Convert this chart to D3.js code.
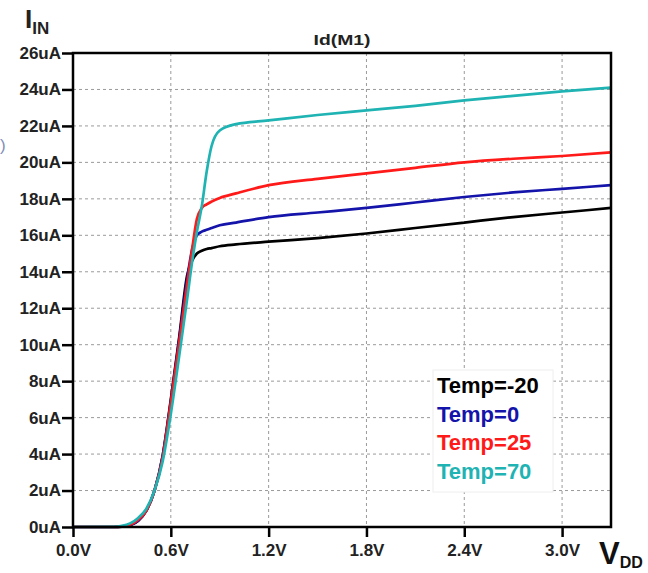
<!DOCTYPE html>
<html>
<head>
<meta charset="utf-8">
<script src="https://cdn.jsdelivr.net/npm/d3@7"></script>
<style>
  body { margin: 0; background: #fff; }
  svg { display: block; font-family: "Liberation Sans", Arial, sans-serif; }
</style>
</head>
<body>
<div id="chart"></div>
<script>
// Data: drain current (uA) vs VDD (V) per temperature
const vdd = [0, 0.25, 0.3, 0.35, 0.4, 0.45, 0.5, 0.55, 0.6, 0.65, 0.7, 0.73, 0.76, 0.79, 0.82, 0.85, 0.9, 1.0, 1.2, 1.5, 1.8, 2.1, 2.4, 2.7, 3.0, 3.3]
const tempM20 = [0, 0, 0.02, 0.1, 0.35, 0.9, 2.0, 3.9, 7.0, 10.3, 13.8, 14.6, 15.0, 15.15, 15.25, 15.3, 15.4, 15.5, 15.65, 15.85, 16.1, 16.4, 16.7, 17.0, 17.25, 17.5]
const temp0 = [0, 0, 0.02, 0.1, 0.35, 0.9, 2.0, 3.9, 6.9, 10.2, 13.6, 15.2, 16.0, 16.2, 16.3, 16.4, 16.55, 16.7, 17.0, 17.25, 17.5, 17.8, 18.1, 18.35, 18.55, 18.75]
const temp25 = [0, 0, 0.03, 0.12, 0.4, 0.9, 2.0, 3.8, 6.8, 10.0, 13.3, 15.2, 16.9, 17.5, 17.7, 17.85, 18.05, 18.3, 18.75, 19.1, 19.4, 19.7, 20.0, 20.2, 20.35, 20.55]
const temp70 = [0, 0.01, 0.06, 0.2, 0.5, 1.0, 2.0, 3.6, 6.2, 9.3, 12.5, 14.5, 16.2, 17.6, 19.5, 20.9, 21.75, 22.1, 22.3, 22.6, 22.85, 23.1, 23.4, 23.65, 23.9, 24.1]

const seriesNames = ["Temp=-20", "Temp=0", "Temp=25", "Temp=70"]
const seriesColors = ["#000000", "#1414aa", "#ff1a1a", "#1fb3b3"]
const seriesValues = [tempM20, temp0, temp25, temp70]

const xTicks = [0, 0.6, 1.2, 1.8, 2.4, 3.0]
const yTicks = d3.range(0, 27, 2)

// Layout
const width = 648, height = 573
const plotLeft = 73, plotRight = 611, plotTop = 53, plotBottom = 527

const svg = d3.select("#chart")
    .append("svg")
    .attr("width", width)
    .attr("height", height)

const x = d3.scaleLinear().domain([0, 3.3]).range([plotLeft, plotRight])
const y = d3.scaleLinear().domain([0, 26]).range([plotBottom, plotTop])

// Grid
let grid = svg.append("g")
    .style("stroke", "#9a9a9a")
    .style("stroke-width", 1)
    .style("stroke-dasharray", "3,3")

grid.selectAll("line.gx")
    .data(xTicks.slice(1))
    .enter()
    .append("line")
    .attr("x1", d => x(d)).attr("x2", d => x(d))
    .attr("y1", plotTop).attr("y2", plotBottom)

grid.selectAll("line.gy")
    .data(yTicks.slice(1, -1))
    .enter()
    .append("line")
    .attr("x1", plotLeft).attr("x2", plotRight)
    .attr("y1", d => y(d)).attr("y2", d => y(d))

// Curves
const line = d3.line()
    .x((d, i) => x(vdd[i]))
    .y(d => y(d))
    .curve(d3.curveMonotoneX)

svg.append("g")
    .style("fill", "none")
    .style("stroke-width", 2.7)
    .style("stroke-linejoin", "round")
    .selectAll("path")
    .data(seriesValues)
    .enter()
    .append("path")
    .attr("d", d => line(d))
    .style("stroke", (d, i) => seriesColors[i])

// Frame
svg.append("rect")
    .attr("x", plotLeft).attr("y", plotTop)
    .attr("width", plotRight - plotLeft).attr("height", plotBottom - plotTop)
    .style("fill", "none")
    .style("stroke", "#000")
    .style("stroke-width", 2.5)

// Axes
const yAxis = svg.append("g")
    .attr("transform", `translate(${plotLeft},0)`)
    .call(d3.axisLeft(y).tickValues(yTicks).tickFormat(d => d + "uA").tickSize(11).tickPadding(1))
const xAxis = svg.append("g")
    .attr("transform", `translate(0,${plotBottom})`)
    .call(d3.axisBottom(x).tickValues(xTicks).tickFormat(d => d.toFixed(1) + "V").tickSize(10).tickPadding(7))

for (const ax of [yAxis, xAxis]) {
    ax.select(".domain").remove()
    ax.selectAll(".tick line").style("stroke", "#000").style("stroke-width", 2.5)
    ax.selectAll(".tick text")
        .style("font-family", "'Liberation Sans', Arial, sans-serif")
        .style("font-size", "17px")
        .style("font-weight", "bold")
        .style("fill", "#222")
}

// Title
svg.append("text")
    .attr("x", (plotLeft + plotRight) / 2).attr("y", 45)
    .attr("text-anchor", "middle")
    .attr("textLength", 57).attr("lengthAdjust", "spacingAndGlyphs")
    .style("font-size", "15px").style("font-weight", "bold").style("fill", "#222")
    .text("Id(M1)")

// Axis labels
let yLabel = svg.append("text")
    .attr("x", 25).attr("y", 28)
    .style("font-weight", "bold").style("fill", "#222")
yLabel.append("tspan").style("font-size", "26px").text("I")
yLabel.append("tspan").attr("dy", 6).style("font-size", "17px").text("IN")

let xLabel = svg.append("text")
    .attr("x", 599).attr("y", 564)
    .style("font-weight", "bold").style("fill", "#111")
xLabel.append("tspan").style("font-size", "31px").text("V")
xLabel.append("tspan").attr("dy", 4).style("font-size", "16px").text("DD")

// stray glyph at the left edge
svg.append("text")
    .attr("x", 0).attr("y", 151)
    .style("font-size", "17px").style("fill", "#7f8fb8")
    .text(")")

// Legend
let legend = svg.append("g")
legend.append("rect")
    .attr("x", 433).attr("y", 370)
    .attr("width", 120).attr("height", 122)
    .style("fill", "#fff")
    .style("stroke", "#eeeeee")
    .style("stroke-width", 1)

legend.selectAll("text")
    .data(seriesNames)
    .enter()
    .append("text")
    .attr("x", 437)
    .attr("y", (d, i) => 393 + i * 28.5)
    .style("font-size", "22px")
    .style("font-weight", "bold")
    .style("fill", (d, i) => seriesColors[i])
    .text(d => d)
</script>
</body>
</html>
